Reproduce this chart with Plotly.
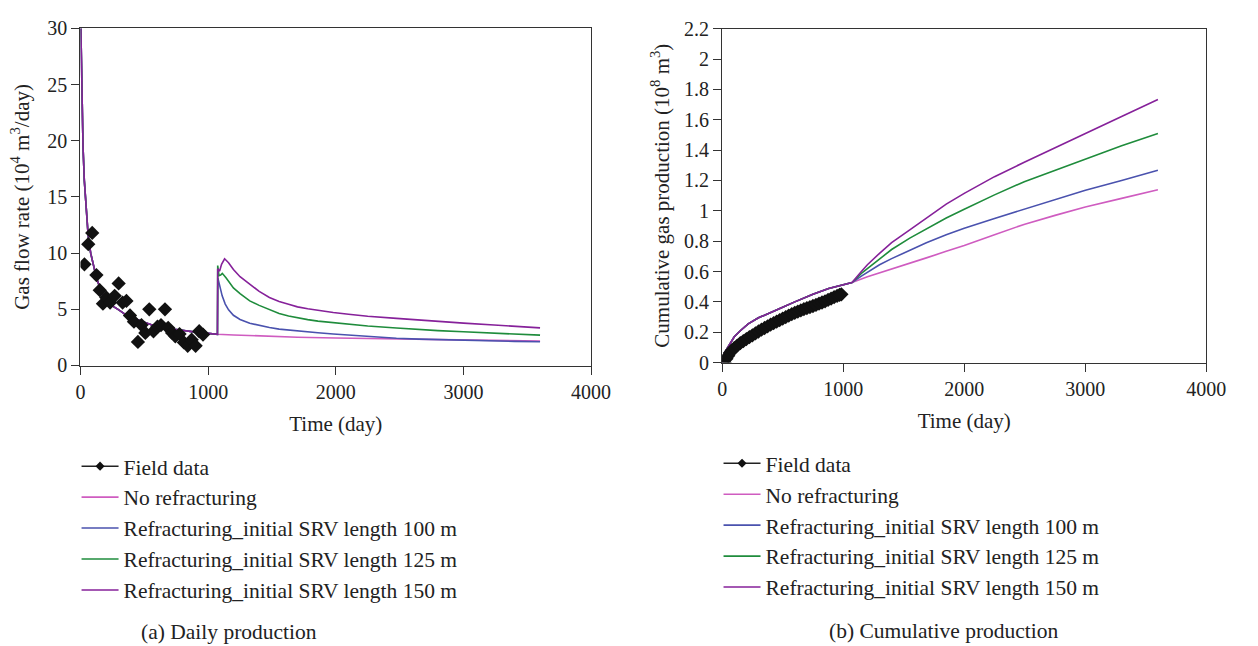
import plotly.graph_objects as go

# ---------------- Daily production (a) ----------------
field_t = [31, 61, 92, 125, 151, 176, 202, 232, 268, 299, 330, 360, 388, 419, 450, 478,
           508, 539, 572, 603, 631, 662, 687, 718, 743, 776, 810, 840, 871, 902, 930, 960]
field_rate = [9.0, 10.8, 11.8, 8.05, 6.7, 5.5, 6.05, 5.6, 6.2, 7.3, 5.6, 5.75, 4.45, 3.9,
              2.1, 3.6, 2.9, 5.0, 3.05, 3.45, 3.6, 5.0, 3.35, 2.9, 2.6, 2.8, 2.05, 1.75,
              2.3, 1.75, 3.05, 2.75]

# shared history before refracturing (day 0 to day 1073)
base_t = [0, 10, 20, 30, 45, 60, 80, 100, 125, 150, 175, 200, 250, 300, 350, 400, 450,
          500, 560, 620, 690, 750, 820, 900, 960, 1020, 1073]
base_rate = [32, 25, 19.5, 16.5, 13.5, 11.6, 10.0, 8.9, 7.8, 7.0, 6.35, 5.9, 5.3, 4.95,
             4.55, 4.3, 4.05, 3.85, 3.6, 3.45, 3.3, 3.2, 3.07, 2.97, 2.9, 2.83, 2.78]

norefrac_t = [1200, 1400, 1700, 2000, 2250, 2475, 2800, 3000, 3300, 3600]
norefrac_rate = [2.72, 2.63, 2.52, 2.45, 2.41, 2.38, 2.3, 2.26, 2.21, 2.17]

srv100_t = [1076, 1090, 1110, 1134, 1160, 1198, 1250, 1326, 1400, 1480, 1556, 1630, 1700,
            1780, 1860, 1980, 2100, 2250, 2475, 2650, 2800, 3000, 3200, 3400, 3600]
srv100_rate = [7.8, 7.0, 6.2, 5.47, 4.95, 4.47, 4.1, 3.76, 3.55, 3.38, 3.24, 3.15, 3.08,
               2.99, 2.92, 2.8, 2.7, 2.55, 2.42, 2.35, 2.3, 2.24, 2.19, 2.15, 2.12]

srv125_t = [1075, 1085, 1098, 1111, 1140, 1198, 1250, 1326, 1400, 1480, 1556, 1630, 1700,
            1780, 1860, 1980, 2100, 2250, 2475, 2650, 2800, 3000, 3240, 3400, 3600]
srv125_rate = [8.9, 8.0, 8.05, 8.2, 7.8, 6.9, 6.4, 5.75, 5.35, 4.95, 4.62, 4.4, 4.22,
               4.08, 3.95, 3.8, 3.66, 3.52, 3.34, 3.2, 3.1, 3.0, 2.88, 2.78, 2.7]

srv150_t = [1075, 1090, 1105, 1129, 1160, 1198, 1250, 1326, 1400, 1480, 1556, 1630, 1700,
            1780, 1860, 1980, 2100, 2250, 2475, 2650, 2800, 3000, 3240, 3400, 3600]
srv150_rate = [8.6, 8.4, 9.0, 9.5, 9.15, 8.55, 7.9, 7.2, 6.6, 6.05, 5.7, 5.45, 5.22, 5.05,
               4.9, 4.72, 4.56, 4.38, 4.19, 4.03, 3.92, 3.77, 3.6, 3.47, 3.35]

# ---------------- Cumulative production (b) ----------------
cum_field_t = [20, 35, 50, 65, 80, 100, 125, 150, 175, 200, 225, 250, 275, 300, 325, 350,
               375, 400, 425, 450, 475, 500, 525, 550, 575, 600, 625, 650, 675, 700, 725,
               750, 775, 800, 825, 850, 875, 900, 925, 950, 970, 985]
cum_field = [0.0, 0.025, 0.045, 0.065, 0.08, 0.095, 0.112, 0.128, 0.142, 0.155, 0.168,
             0.18, 0.193, 0.205, 0.217, 0.228, 0.239, 0.25, 0.26, 0.27, 0.28, 0.29, 0.3,
             0.31, 0.319, 0.328, 0.336, 0.344, 0.352, 0.359, 0.366, 0.373, 0.38, 0.388,
             0.396, 0.404, 0.413, 0.422, 0.431, 0.44, 0.446, 0.45]

cum_base_t = [0, 5, 15, 30, 50, 75, 100, 150, 215, 300, 400, 486, 600, 750, 880, 1000, 1073]
cum_base = [0.0, 0.03, 0.055, 0.078, 0.105, 0.14, 0.17, 0.21, 0.255, 0.295, 0.332, 0.36,
            0.4, 0.45, 0.488, 0.515, 0.528]

cum_norefrac_t = [1200, 1400, 1687, 1851, 2000, 2250, 2500, 2750, 3000, 3300, 3600]
cum_norefrac = [0.565, 0.615, 0.69, 0.733, 0.772, 0.843, 0.912, 0.97, 1.025, 1.082, 1.139]

cum_srv100_t = [1150, 1200, 1300, 1400, 1550, 1687, 1851, 2000, 2250, 2496, 2750, 3001,
                3300, 3600]
cum_srv100 = [0.57, 0.595, 0.645, 0.685, 0.74, 0.789, 0.842, 0.885, 0.95, 1.012, 1.075,
              1.135, 1.2, 1.267]

cum_srv125_t = [1150, 1200, 1300, 1400, 1550, 1687, 1851, 2000, 2250, 2496, 2750, 3001,
                3300, 3600]
cum_srv125 = [0.588, 0.62, 0.685, 0.745, 0.82, 0.88, 0.953, 1.01, 1.105, 1.192, 1.268,
              1.341, 1.428, 1.51]

cum_srv150_t = [1150, 1200, 1300, 1400, 1550, 1687, 1851, 2000, 2250, 2496, 2750, 3001,
                3300, 3600]
cum_srv150 = [0.6, 0.645, 0.72, 0.79, 0.875, 0.953, 1.044, 1.115, 1.225, 1.32, 1.418,
              1.51, 1.622, 1.733]

series_names = ["No refracturing",
                "Refracturing_initial SRV length 100 m",
                "Refracturing_initial SRV length 125 m",
                "Refracturing_initial SRV length 150 m"]
colors = ["#cf5cc0", "#4a52ae", "#1f8c3c", "#86219a"]

FONT = "Liberation Serif"
TXT = "#222222"
fig = go.Figure()


def add_panel(xa, ya, legend, ft, fv, bt, bv, tails):
    # legend entry for the field data: line with a small diamond
    fig.add_trace(go.Scatter(x=[None], y=[None], mode="lines+markers", name="Field data",
                             line=dict(color="#222222", width=1.5),
                             marker=dict(symbol="diamond", size=7, color="#111111"),
                             xaxis=xa, yaxis=ya, legend=legend))
    for (tt, vv), name, c in zip(tails, series_names, colors):
        fig.add_trace(go.Scatter(x=bt + tt, y=bv + vv, mode="lines", name=name,
                                 line=dict(color=c, width=1.6), xaxis=xa, yaxis=ya,
                                 legend=legend))
    fig.add_trace(go.Scatter(x=ft, y=fv, mode="markers", showlegend=False,
                             marker=dict(symbol="diamond", size=11, color="#111111"),
                             xaxis=xa, yaxis=ya))


add_panel("x", "y", "legend", field_t, field_rate, base_t, base_rate,
          [(norefrac_t, norefrac_rate), (srv100_t, srv100_rate),
           (srv125_t, srv125_rate), (srv150_t, srv150_rate)])
add_panel("x2", "y2", "legend2", cum_field_t, cum_field, cum_base_t, cum_base,
          [(cum_norefrac_t, cum_norefrac), (cum_srv100_t, cum_srv100),
           (cum_srv125_t, cum_srv125), (cum_srv150_t, cum_srv150)])

W, H = 1258, 646
axis_common = dict(showline=True, mirror=True, linecolor="#333333", linewidth=1.2,
                   ticks="outside", ticklen=8, tickcolor="#333333", showgrid=False,
                   zeroline=False, tickfont=dict(family=FONT, size=20, color=TXT),
                   title_font=dict(family=FONT, size=21, color=TXT))

legend_common = dict(xanchor="left", yanchor="top", itemwidth=37,
                     font=dict(family=FONT, size=21.5, color=TXT),
                     bgcolor="rgba(0,0,0,0)", tracegroupgap=0)

fig.update_layout(
    width=W, height=H, margin=dict(l=0, r=0, t=0, b=0),
    plot_bgcolor="white", paper_bgcolor="white",
    font=dict(family=FONT, color=TXT),
    xaxis=dict(domain=[77 / W, 598 / W], range=[0, 4000], dtick=1000,
               title=dict(text="Time (day)", standoff=14), anchor="y", **axis_common),
    yaxis=dict(domain=[1 - 367 / H, 1 - 18 / H], range=[0, 30], dtick=5,
               title=dict(text="Gas flow rate (10<sup>4</sup> m<sup>3</sup>/day)", standoff=12),
               anchor="x", **axis_common),
    xaxis2=dict(domain=[731.7 / W, 1225.7 / W], range=[0, 4000], dtick=1000,
                title=dict(text="Time (day)", standoff=14), anchor="y2", **axis_common),
    yaxis2=dict(domain=[1 - 364 / H, 1 - 18.3 / H], range=[0, 2.2], dtick=0.2,
                tickformat="~g",
                title=dict(text="Cumulative gas production (10<sup>8</sup> m<sup>3</sup>)",
                           standoff=8),
                anchor="x2", **axis_common),
    legend=dict(x=73 / W, y=1 - 450 / H, **legend_common),
    legend2=dict(x=728 / W, y=1 - 447 / H, **legend_common),
    annotations=[
        dict(text="(a) Daily production", x=229 / W, y=1 - 643 / H, xref="paper",
             yref="paper", xanchor="center", yanchor="middle", showarrow=False,
             font=dict(family=FONT, size=21.5, color=TXT)),
        dict(text="(b) Cumulative production", x=958 / W, y=1 - 642 / H, xref="paper",
             yref="paper", xanchor="center", yanchor="middle", showarrow=False,
             font=dict(family=FONT, size=21.5, color=TXT)),
    ],
)

fig.write_html("out.html")
